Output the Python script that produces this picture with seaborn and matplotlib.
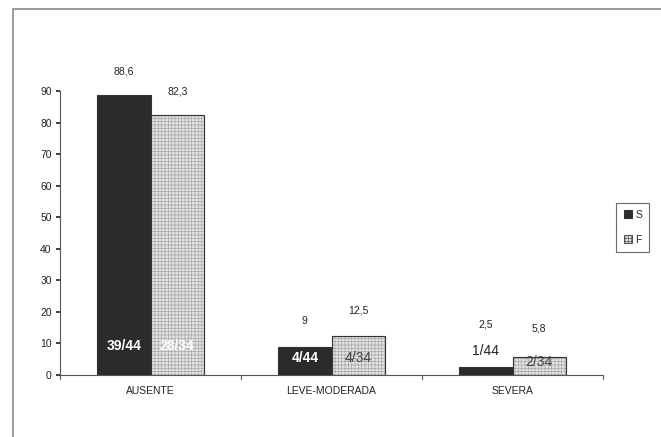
import matplotlib
matplotlib.use("Agg")
import matplotlib.pyplot as plt
import seaborn as sns
import pandas as pd
from matplotlib.patches import Rectangle

categories = ["AUSENTE", "LEVE-MODERADA", "SEVERA"]
series = ["S", "F"]
values_S = [88.6, 9, 2.5]
values_F = [82.3, 12.5, 5.8]
labels_S = ["88,6", "9", "2,5"]
labels_F = ["82,3", "12,5", "5,8"]
frac_S = ["39/44", "4/44", "1/44"]
frac_F = ["28/34", "4/34", "2/34"]
yticks = [0, 10, 20, 30, 40, 50, 60, 70, 80, 90]

df = pd.DataFrame({
    "cat": categories * 2,
    "serie": ["S"] * 3 + ["F"] * 3,
    "val": values_S + values_F,
})

sns.set_theme(style="white")
plt.rcParams["font.family"] = ["Liberation Sans", "DejaVu Sans"]
plt.rcParams["hatch.linewidth"] = 0.5

fig = plt.figure(figsize=(6.61, 4.37), dpi=100)
fig.patch.set_facecolor("white")
fig.patches.append(Rectangle((0.019, -0.01), 1.0, 0.99, transform=fig.transFigure,
                             fill=False, edgecolor="#8a8a8a", linewidth=1.2))

ax = fig.add_axes([0.0908, 0.1419, 0.8215, 0.65])
sns.barplot(data=df, x="cat", y="val", hue="serie", hue_order=series,
            palette={"S": "#2b2b2b", "F": "#e2e2e2"}, width=0.59,
            edgecolor="#333333", linewidth=0.8, ax=ax, legend=True)

# fine grid hatch for F bars, with a dark outline on top
for cont, name in zip(ax.containers, series):
    if name == "F":
        for bar in cont:
            bar.set_hatch("+++++")
            bar.set_edgecolor("#a8a8a8")
            ax.add_patch(Rectangle(bar.get_xy(), bar.get_width(), bar.get_height(),
                                   fill=False, edgecolor="#333333", linewidth=0.8,
                                   zorder=bar.get_zorder() + 0.1))

ax.set_ylim(0, 90)
ax.set_xlim(-0.5, 2.5)
ax.set_yticks(yticks)
ax.set_yticklabels([str(t) for t in yticks], fontsize=7.5, color="#222222")
ax.set_xlabel("")
ax.set_ylabel("")
ax.tick_params(axis="x", labelsize=7.5, colors="#222222", length=0, pad=8)
ax.tick_params(axis="y", length=3, direction="out", left=True, pad=3)
for s in ["top", "right"]:
    ax.spines[s].set_visible(False)
for s in ["left", "bottom"]:
    ax.spines[s].set_color("#555555")
    ax.spines[s].set_linewidth(0.8)
ax.set_xticks([0, 1, 2])
ax.set_xticklabels(categories)
for xb in [-0.5, 0.5, 1.5, 2.5]:
    ax.plot([xb, xb], [0, -1.2], color="#555555", lw=0.8, clip_on=False)

# value labels above bars (offsets in data units)
off_S = [7.5, 8.0, 13.5]
off_F = [7.5, 8.0, 9.0]
for cont, labs, offs in zip(ax.containers, [labels_S, labels_F], [off_S, off_F]):
    for bar, lab, o in zip(cont, labs, offs):
        ax.text(bar.get_x() + bar.get_width() / 2, bar.get_height() + o, lab,
                ha="center", va="center", fontsize=7.5, color="#222222")

# fraction labels
frac_y_S = [9.2, 5.3, 7.6]
frac_col_S = ["white", "white", "#222222"]
frac_y_F = [9.2, 5.3, 4.0]
frac_col_F = ["white", "#444444", "#444444"]
for bar, lab, yy, c in zip(ax.containers[0], frac_S, frac_y_S, frac_col_S):
    ax.text(bar.get_x() + bar.get_width() / 2, yy, lab, ha="center", va="center",
            fontsize=10, color=c, fontweight="bold" if c == "white" else "normal",
            zorder=5)
for bar, lab, yy, c in zip(ax.containers[1], frac_F, frac_y_F, frac_col_F):
    ax.text(bar.get_x() + bar.get_width() / 2, yy, lab, ha="center", va="center",
            fontsize=10, color=c, fontweight="bold" if c == "white" else "normal",
            zorder=5)

leg = ax.legend(loc="center left", bbox_to_anchor=(1.015, 0.52), frameon=True,
                fontsize=7.5, handlelength=0.8, handleheight=0.8, handletextpad=0.3,
                borderpad=0.7, labelspacing=1.4, fancybox=False)
leg.get_frame().set_edgecolor("#444444")
leg.get_frame().set_linewidth(0.8)
for h in leg.legend_handles:
    if h.get_facecolor()[0] > 0.5:
        h.set_hatch("+++++")
        h.set_edgecolor("#555555")

fig.savefig("out.png", dpi=100, facecolor="white")
